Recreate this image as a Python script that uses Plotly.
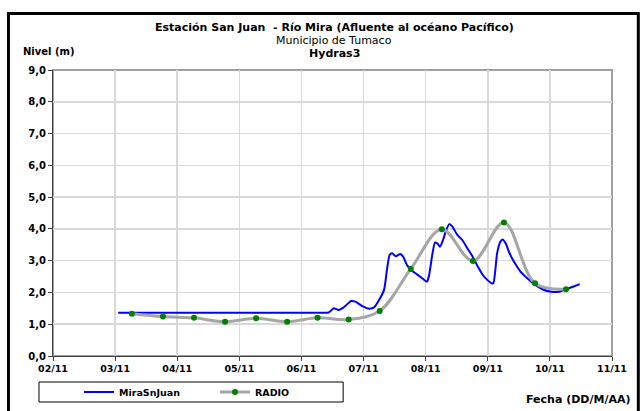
import plotly.graph_objects as go

# ---- data ----
tick_labels = ["02/11", "03/11", "04/11", "05/11", "06/11", "07/11", "08/11", "09/11", "10/11", "11/11"]

mira_x = [1.05, 2.00, 3.00, 4.00, 4.30, 4.44, 4.52, 4.60, 4.68, 4.80, 4.87, 4.98, 5.09, 5.17,
          5.25, 5.33, 5.38, 5.42, 5.46, 5.52, 5.59, 5.64, 5.70, 5.77, 5.86, 5.95, 6.02, 6.05,
          6.11, 6.15, 6.19, 6.23, 6.28, 6.33, 6.38, 6.43, 6.51, 6.59, 6.67, 6.75, 6.83, 6.92,
          7.00, 7.06, 7.09, 7.15, 7.20, 7.24, 7.29, 7.34, 7.42, 7.53, 7.64, 7.75, 7.88, 8.02,
          8.14, 8.26, 8.37, 8.48]
mira_y = [1.36, 1.36, 1.36, 1.36, 1.36, 1.37, 1.50, 1.45, 1.53, 1.73, 1.71, 1.57, 1.49, 1.53,
          1.76, 2.08, 2.76, 3.18, 3.23, 3.14, 3.21, 3.12, 2.86, 2.70, 2.57, 2.44, 2.34, 2.49,
          3.23, 3.57, 3.54, 3.44, 3.65, 3.96, 4.15, 4.07, 3.81, 3.65, 3.39, 3.15, 2.85, 2.55,
          2.38, 2.29, 2.29, 3.23, 3.59, 3.67, 3.54, 3.28, 2.97, 2.65, 2.44, 2.26, 2.10, 2.02,
          2.02, 2.10, 2.18, 2.26]

radio_x = [1.27, 1.77, 2.27, 2.77, 3.27, 3.77, 4.26, 4.76, 5.26, 5.76, 6.26, 6.76, 7.26, 7.76, 8.26]
radio_y = [1.33, 1.24, 1.20, 1.08, 1.19, 1.08, 1.20, 1.15, 1.42, 2.74, 3.99, 2.99, 4.20, 2.29, 2.10]

FONT = "DejaVu Sans, Liberation Sans, Arial, sans-serif"

# plot-area geometry in pixels (used to place paper-referenced decorations)
L, R, T, B = 53.0, 611.7, 70.0, 356.0
PW, PH = R - L, B - T

def px(x):
    return (x - L) / PW

def py(y):
    return (B - y) / PH

fig = go.Figure()
fig.add_trace(go.Scatter(
    x=mira_x, y=mira_y, mode="lines", name="MiraSnJuan",
    line=dict(color="#0000ff", width=2, shape="spline", smoothing=0.6),
))
fig.add_trace(go.Scatter(
    x=radio_x, y=radio_y, mode="lines+markers", name="RADIO",
    line=dict(color="#a6a6a6", width=3, shape="spline", smoothing=1.0),
    marker=dict(color="#008000", size=6),
))

# plot-area border (gray) and outer black frame
fig.add_shape(type="rect", xref="paper", yref="paper", x0=0, x1=1, y0=0, y1=1,
              line=dict(color="#a0a0a0", width=2), layer="below")
fig.add_shape(type="rect", xref="paper", yref="paper",
              x0=px(8.5), x1=px(638), y0=py(425), y1=py(13.5),
              line=dict(color="black", width=3))
# legend box
fig.add_shape(type="rect", xref="paper", yref="paper",
              x0=px(39), x1=px(343), y0=py(402), y1=py(382),
              line=dict(color="black", width=1))

def ann(text, x, y, size=11, bold=True, xanchor="center"):
    fig.add_annotation(text=text, x=x, y=y, xref="paper", yref="paper", showarrow=False,
                       xanchor=xanchor, yanchor="middle",
                       font=dict(family=FONT, size=size, color="black",
                                 weight="bold" if bold else "normal"))

ann("Estación San Juan  - Río Mira (Afluente al océano Pacífico)", px(334), py(28), size=11)
ann("Municipio de Tumaco", px(334), py(40.7), size=11, bold=False)
ann("Hydras3", px(334), py(53), size=11)
ann("Nivel (m)", px(21), py(51.3), size=10, xanchor="left")
ann("Fecha (DD/M/AA)", px(632), py(400), size=11, xanchor="right")

fig.update_layout(
    width=640, height=411,
    margin=dict(l=L, r=640 - R, t=T, b=411 - B, autoexpand=False),
    paper_bgcolor="white", plot_bgcolor="white",
    separators=",.",
    font=dict(family=FONT, size=10, color="black"),
    showlegend=True,
    hovermode=False,
    legend=dict(orientation="h", x=px(79), y=py(392),
                xanchor="left", yanchor="middle",
                bgcolor="rgba(0,0,0,0)", borderwidth=0,
                entrywidth=91, entrywidthmode="pixels",
                font=dict(family=FONT, size=9.5, color="black", weight="bold")),
    xaxis=dict(range=[0, 9], tickvals=list(range(10)), ticktext=tick_labels,
               showgrid=True, gridcolor="#d9d9d9", gridwidth=1.5,
               showline=True, linecolor="#404040", linewidth=1,
               ticks="outside", ticklen=4, tickcolor="#404040",
               zeroline=False, fixedrange=True,
               tickfont=dict(family=FONT, size=9.5, color="black", weight="bold")),
    yaxis=dict(range=[0, 9], dtick=1, tick0=0, tickformat=".1f",
               showgrid=True, gridcolor="#d9d9d9", gridwidth=1.5,
               showline=True, linecolor="#404040", linewidth=1,
               ticks="outside", ticklen=4, tickcolor="#404040",
               zeroline=False, fixedrange=True,
               tickfont=dict(family=FONT, size=10, color="black", weight="bold")),
)

fig.write_html("out.html", config={"displayModeBar": False, "staticPlot": True},
               post_script="document.body.style.margin='0';document.body.style.overflow='hidden';")
